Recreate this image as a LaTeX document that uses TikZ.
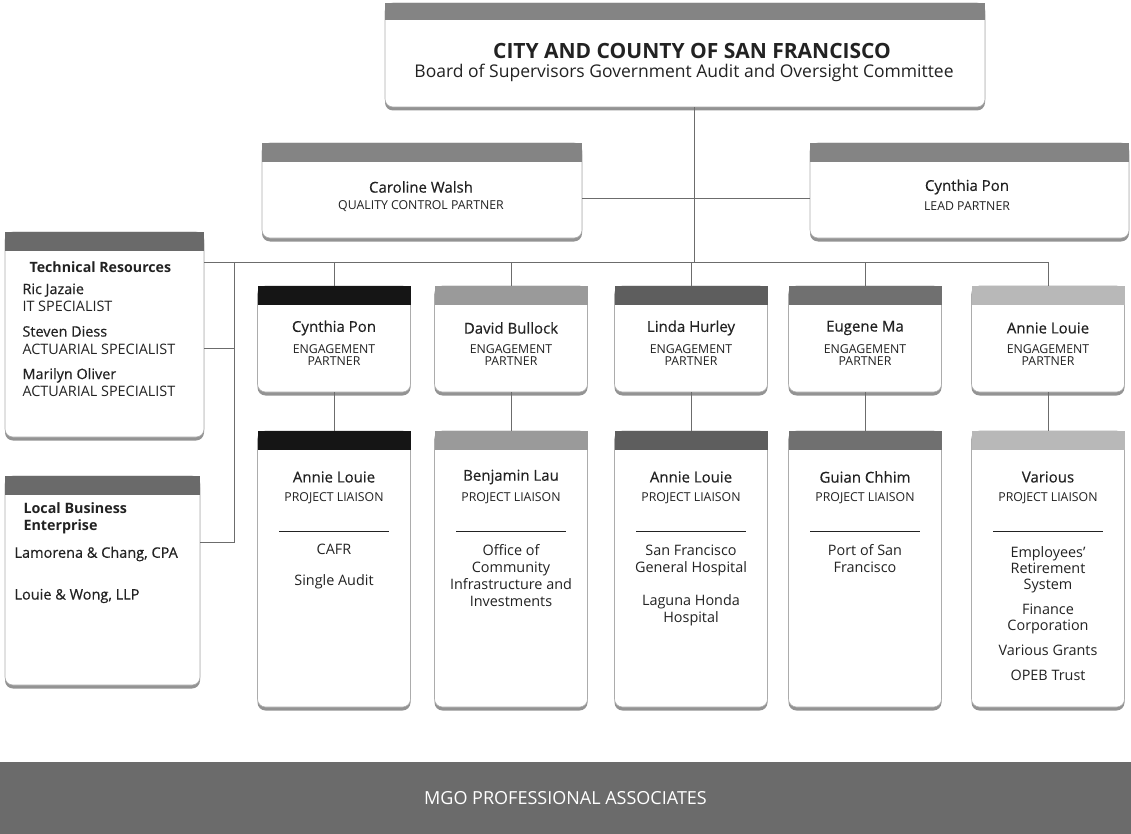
\documentclass[tikz,border=0pt]{standalone}
\usepackage{fontspec}
\setmainfont{Open Sans}
\newfontfamily\semifont{Open Sans}[FakeBold=0.4]
\usepackage{tikz}
\usetikzlibrary{positioning,shadows}

\definecolor{hdtop}{HTML}{848484}
\definecolor{hdside}{HTML}{6A6A6A}
\definecolor{colA}{HTML}{151515}
\definecolor{colB}{HTML}{9A9A9A}
\definecolor{colC}{HTML}{5E5E5E}
\definecolor{colD}{HTML}{707070}
\definecolor{colE}{HTML}{B8B8B8}
\definecolor{barfill}{HTML}{6B6B6B}
\definecolor{ink}{HTML}{222222}

\tikzset{
  card/.style={draw=gray!65, line width=0.6pt, fill=white, rounded corners=8pt, inner sep=0pt,
    drop shadow={shadow xshift=0pt, shadow yshift=-3.5pt, fill=gray!85, opacity=1}},
  headbar/.style={fill=#1, inner sep=0pt, minimum height=19pt, anchor=north},
  conn/.style={draw=gray!85!black, line width=0.6pt},
  rule/.style={draw=ink, line width=0.8pt},
  person/.style={font=\semifont\fontsize{15}{17}\selectfont, text=ink},
  jobtitle/.style={font=\fontsize{12.3}{12}\selectfont, text=ink, align=center},
  dutylist/.style={font=\fontsize{14.4}{17}\selectfont, text=ink, align=center, anchor=north},
}

\begin{document}
\begin{tikzpicture}[x=1pt, y=-1pt]
\useasboundingbox (0,0) rectangle (1131,834);

% board
\node[card, minimum width=600, minimum height=104] (board) at (685,55) {};
\node[headbar=hdtop, minimum width=600, minimum height=17] (boardbar) at (board.north) {};
\node[font=\bfseries\fontsize{21}{23}\selectfont, text=ink] (boardname) at (692,51) {CITY AND COUNTY OF SAN FRANCISCO};
\node[font=\fontsize{17.5}{19}\selectfont, text=ink] (boardsub) at (684,73) {Board of Supervisors Government Audit and Oversight Committee};

% partners
\node[card, minimum width=320, minimum height=95] (qc) at (422,190.5) {};
\node[headbar=hdtop, minimum width=320] (qcbar) at (qc.north) {};
\node[person] (qcname) at (421,187) {Caroline Walsh};
\node[jobtitle] (qcrole) at (421,206) {QUALITY CONTROL PARTNER};

\node[card, minimum width=319, minimum height=95] (lead) at (969.5,190.5) {};
\node[headbar=hdtop, minimum width=319] (leadbar) at (lead.north) {};
\node[person] (leadname) at (967,187) {Cynthia Pon};
\node[jobtitle] (leadrole) at (967,206) {LEAD PARTNER};

% technical resources
\node[card, minimum width=199, minimum height=205] (tech) at (104.5,334.5) {};
\node[headbar=hdside, minimum width=199] (techbar) at (tech.north) {};
\node[font=\bfseries\fontsize{14.2}{16}\selectfont, text=ink, anchor=west] (techhead) at (26,267) {Technical Resources};
\node[font=\fontsize{14.4}{17.5}\selectfont, text=ink, align=left, anchor=north west] (techlist) at (19,280)
  {{\semifont Ric Jazaie}\\ IT SPECIALIST\\[7.5pt] {\semifont Steven Diess}\\ ACTUARIAL SPECIALIST\\[7.5pt] {\semifont Marilyn Oliver}\\ ACTUARIAL SPECIALIST};

% local business enterprise
\node[card, minimum width=195, minimum height=209] (lbe) at (102.5,580.5) {};
\node[headbar=hdside, minimum width=195] (lbebar) at (lbe.north) {};
\node[font=\bfseries\fontsize{14.3}{17}\selectfont, text=ink, align=left, anchor=north west] (lbehead) at (20,499) {Local Business\\Enterprise};
\node[font=\semifont\fontsize{14.5}{16}\selectfont, text=ink, anchor=west] (lbeA) at (11,554) {Lamorena \& Chang, CPA};
\node[font=\semifont\fontsize{14.5}{16}\selectfont, text=ink, anchor=west] (lbeB) at (11,596) {Louie \& Wong, LLP};

% engagement columns
\foreach \i/\cx/\hue/\partner/\liaison in {1/334/colA/Cynthia Pon/Annie Louie, 2/511/colB/David Bullock/Benjamin Lau,
    3/691/colC/Linda Hurley/Annie Louie, 4/865/colD/Eugene Ma/Guian Chhim, 5/1048/colE/Annie Louie/Various}{
  \node[card, minimum width=153, minimum height=106] (eng\i) at (\cx,339) {};
  \node[headbar=\hue, minimum width=153] (engbar\i) at (eng\i.north) {};
  \node[person] (engname\i) at (\cx,328) {\partner};
  \node[jobtitle] (engrole\i) at (\cx,355) {ENGAGEMENT\\PARTNER};
  \node[card, minimum width=153, minimum height=276] (liaison\i) at (\cx,569) {};
  \node[headbar=\hue, minimum width=153] (liaisonbar\i) at (liaison\i.north) {};
  \node[person] (liaisonname\i) at (\cx,477) {\liaison};
  \node[jobtitle] (liaisonrole\i) at (\cx,498) {PROJECT LIAISON};
  \draw[rule] (\cx-55,531) -- (\cx+55,531);
  \draw[conn] (eng\i.south) -- (liaisonbar\i.north);
}

\node[dutylist] (duty1) at (334,541) {CAFR\\[14pt]Single Audit};
\node[dutylist] (duty2) at (511,541) {Office of\\Community\\Infrastructure and\\Investments};
\node[dutylist] (duty3) at (691,541) {San Francisco\\General Hospital\\[16pt]Laguna Honda\\Hospital};
\node[dutylist] (duty4) at (865,541) {Port of San\\Francisco};
\node[dutylist, font=\fontsize{14.4}{16}\selectfont] (duty5) at (1048,543)
  {Employees’\\Retirement\\System\\[9pt]Finance\\Corporation\\[9pt]Various Grants\\[9pt]OPEB Trust};

% connectors
\coordinate (hub) at (694,262);
\coordinate (sidetop) at (234,262);
\coordinate (sidemid) at (234,348);
\coordinate (sidebot) at (234,542);
\draw[conn] (board.south -| hub) -- (hub);
\draw[conn] ([yshift=-8pt]qc.east) -- ([yshift=-8pt]lead.west);
\draw[conn] (tech.east |- hub) -- (hub -| eng5.north);
\foreach \i in {1,...,5}
  \draw[conn] (eng\i.north |- hub) -- (engbar\i.north);
\draw[conn] (sidetop) -- (sidebot) -- (sidebot -| lbe.east);
\draw[conn] (sidemid) -- (sidemid -| tech.east);

% associates bar
\node[fill=barfill, minimum width=1131, minimum height=72, inner sep=0pt,
  font=\fontsize{18}{20}\selectfont, text=white] (mgo) at (565.5,798) {MGO PROFESSIONAL ASSOCIATES};
\end{tikzpicture}
\end{document}
